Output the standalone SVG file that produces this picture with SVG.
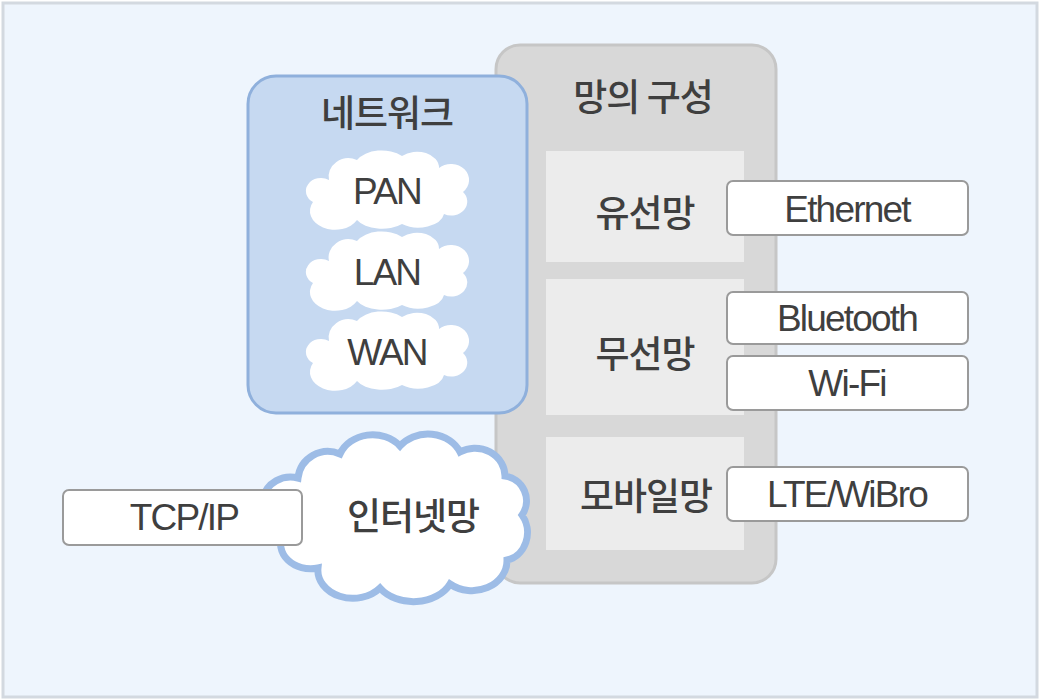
<svg xmlns="http://www.w3.org/2000/svg" width="1040" height="700" viewBox="0 0 1040 700">
<style>
.ko{font-family:"Noto Sans CJK KR","Noto Sans",sans-serif;font-size:37px;fill:#3f3f3f;text-anchor:middle;dominant-baseline:central;font-weight:500;letter-spacing:-1px}
.en{font-family:"Liberation Sans",Arial,sans-serif;font-size:37px;fill:#3f3f3f;text-anchor:middle;dominant-baseline:central;letter-spacing:-1.8px}
.tag{fill:#ffffff;stroke:#9a9a9a;stroke-width:2}
.sub{fill:#ececec}
</style>
<defs>
<path id="cloud" d="M -58,-10 A 20,18 0 0 1 -30,-30 A 28,18 0 0 1 15,-34 A 22,16 0 0 1 52,-22 A 18,16 0 0 1 76,2 A 16,14 0 0 1 57,24 A 26,16 0 0 1 15,34 A 28,16 0 0 1 -30,30 A 20,15 0 0 1 -74,12 A 14,12 0 0 1 -58,-10 Z"/>
</defs>
<rect x="3" y="3" width="1034" height="694" fill="#eef5fd" stroke="#d3d9e0" stroke-width="3"/>

<g id="config">
<rect x="496" y="45" width="280" height="538" rx="24" fill="#d8d8d8" stroke="#c6c6c6" stroke-width="3"/>
<text class="ko" x="643" y="95">망의 구성</text>
</g>
<g id="wired">
<rect class="sub" x="546" y="151" width="198" height="111"/>
<text class="ko" x="645" y="211">유선망</text>
</g>
<g id="wireless">
<rect class="sub" x="546" y="279" width="198" height="136"/>
<text class="ko" x="645" y="352">무선망</text>
</g>
<g id="mobile">
<rect class="sub" x="546" y="437" width="198" height="113"/>
<text class="ko" x="646" y="494">모바일망</text>
</g>

<g id="network">
<rect x="248" y="76" width="279" height="337" rx="28" fill="#c6d9f1" stroke="#8fb0dc" stroke-width="3"/>
<text class="ko" x="387" y="111">네트워크</text>
</g>
<g id="pan">
<use href="#cloud" x="387" y="190" fill="#ffffff"/>
<text class="en" x="387" y="191">PAN</text>
</g>
<g id="lan">
<use href="#cloud" x="387" y="271" fill="#ffffff"/>
<text class="en" x="387" y="272">LAN</text>
</g>
<g id="wan">
<use href="#cloud" x="387" y="351" fill="#ffffff"/>
<text class="en" x="387" y="352">WAN</text>
</g>

<g id="internet">
<path d="M 298,478 A 30,30 0 0 1 340,454 A 35,30 0 0 1 400,446 A 35,30 0 0 1 460,452 A 30,28 0 0 1 505,476 A 25,25 0 0 1 522,515 A 25,28 0 0 1 507,560 A 35,30 0 0 1 450,584 A 40,30 0 0 1 380,588 A 35,28 0 0 1 318,568 A 30,25 0 0 1 283,534 A 25,25 0 0 1 298,478 Z" fill="#ffffff" stroke="#9dbce6" stroke-width="7"/>
<text class="ko" x="413" y="514">인터넷망</text>
</g>

<g id="connectors"></g>

<g id="tcpip">
<rect class="tag" x="63" y="490" width="239" height="55" rx="6"/>
<text class="en" x="184" y="517">TCP/IP</text>
</g>
<g id="ethernet">
<rect class="tag" x="727" y="181" width="241" height="54" rx="6"/>
<text class="en" x="847" y="209">Ethernet</text>
</g>
<g id="bluetooth">
<rect class="tag" x="727" y="292" width="241" height="52" rx="6"/>
<text class="en" x="847" y="318">Bluetooth</text>
</g>
<g id="wifi">
<rect class="tag" x="727" y="356" width="241" height="54" rx="6"/>
<text class="en" x="847" y="383">Wi-Fi</text>
</g>
<g id="lte">
<rect class="tag" x="727" y="467" width="241" height="54" rx="6"/>
<text class="en" x="847" y="494">LTE/WiBro</text>
</g>
</svg>
